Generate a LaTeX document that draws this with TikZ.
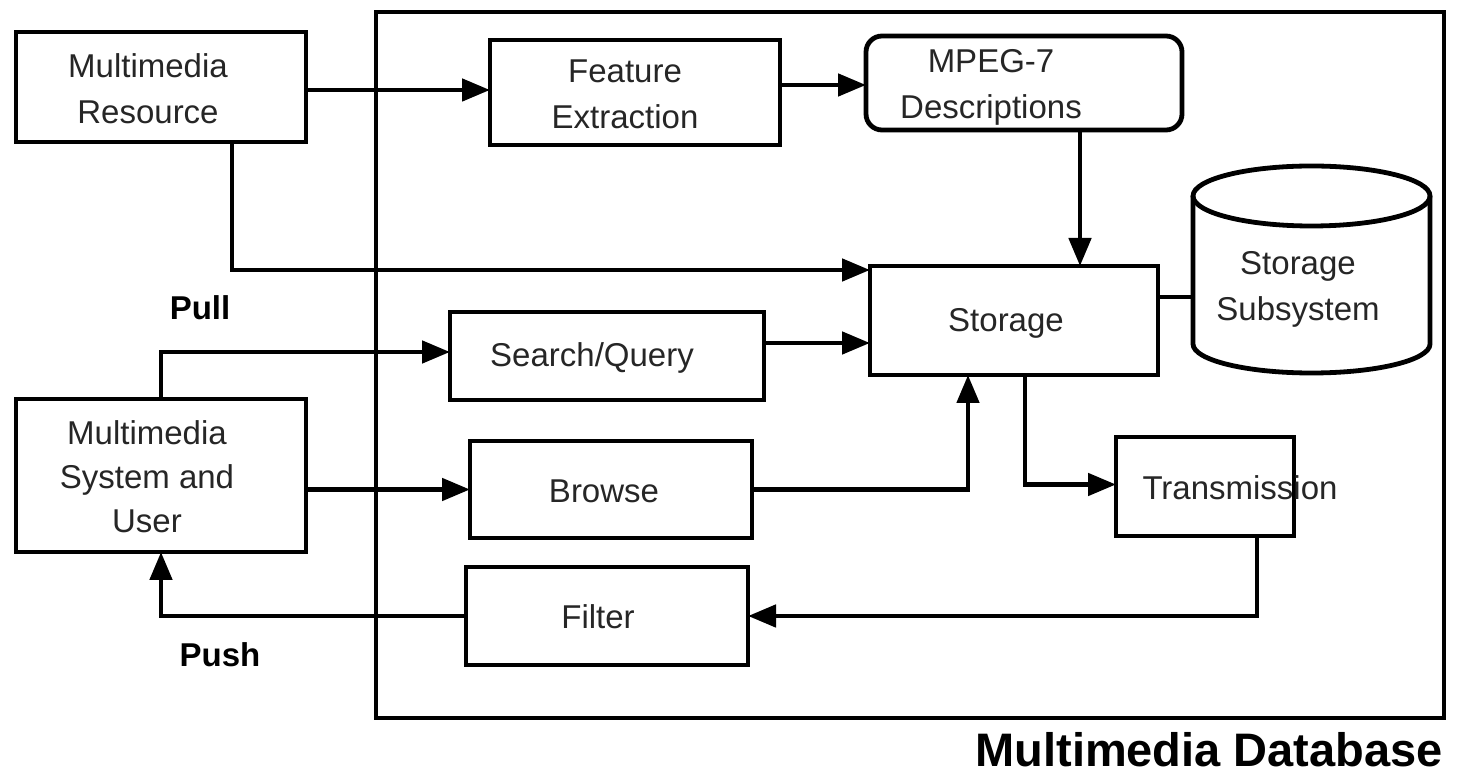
\documentclass[tikz,border=0pt]{standalone}
\usepackage{fontspec}
\setmainfont{Liberation Sans}
\usetikzlibrary{arrows.meta}
\begin{document}
\begin{tikzpicture}[x=0.5pt,y=-0.5pt,
  line width=2.4pt,
  box/.style={draw, rectangle, inner sep=0pt, outer sep=0pt},
  lbl/.style={align=center, text=black!85, font=\fontsize{16.5pt}{23pt}\selectfont},
  bold/.style={font=\fontsize{16.5pt}{20pt}\selectfont\bfseries},
  arr/.style={-{Triangle[length=14pt,width=11pt]}}]
\useasboundingbox (0,0) rectangle (1461,779);
\fill[white] (0,0) rectangle (1461,779);

% database frame
\node[box, minimum width=534pt, minimum height=353pt] (db) at (910,365) {};
\node[anchor=east, font=\fontsize{23.5pt}{26pt}\selectfont\bfseries] (dbt) at (1452,750) {Multimedia Database};

% blocks
\node[box, minimum width=145pt, minimum height=55pt] (mr) at (161,87) {};
\node[lbl] (mrt) at (148,89) {Multimedia\\Resource};

\node[box, minimum width=145pt, minimum height=52.5pt] (fe) at (635,92.5) {};
\node[lbl] (fet) at (625,94) {Feature\\Extraction};

\node[box, rounded corners=8pt, minimum width=158pt, minimum height=47pt] (mp) at (1024,83) {};
\node[lbl] (mpt) at (991,87) {MPEG-7\\Descriptions};

\node[box, minimum width=144pt, minimum height=54.5pt] (st) at (1014,320.5) {};
\node[lbl] (stt) at (1006,323) {Storage};

\node[box, minimum width=157pt, minimum height=44pt] (sq) at (607,356) {};
\node[lbl] (sqt) at (592,358) {Search/Query};

\node[box, minimum width=141pt, minimum height=48.5pt] (br) at (611,489.5) {};
\node[lbl] (brt) at (604,491) {Browse};

\node[box, minimum width=89pt, minimum height=49.5pt] (tr) at (1205,486.5) {};
\node[lbl] (trt) at (1240,488) {Transmission};

\node[box, minimum width=141pt, minimum height=49pt] (fi) at (607,616) {};
\node[lbl] (fit) at (598,617) {Filter};

\node[box, minimum width=145pt, minimum height=76.5pt] (ms) at (161,475.5) {};
\node[lbl, font=\fontsize{16.5pt}{22pt}\selectfont] (mst) at (147,477) {Multimedia\\System and\\User};

% storage subsystem cylinder
\draw (1311.5,196) ellipse [x radius=59.25pt, y radius=15pt];
\draw (1193,196) -- (1193,344) arc[start angle=180, end angle=360, x radius=59.25pt, y radius=14.5pt] -- (1430,196);
\coordinate (cyl) at (1193,297);
\node[lbl] (sst) at (1298,289) {Storage\\Subsystem};

% pull / push labels
\node[bold] (pull) at (200,308) {Pull};
\node[bold] (push) at (220,655) {Push};

% connectors
\draw[arr] ([yshift=-1.5pt]mr.east) -- ([yshift=-1.5pt]mr.east -| fe.west);
\draw[arr] ([yshift=-1pt]mp.west -| fe.east) -- ([yshift=-1pt]mp.west);
\draw[arr] ([xshift=28pt]mp.south) -- ([xshift=28pt]mp.south |- st.north);
\draw[arr] ([xshift=35.5pt]mr.south) |- ([yshift=25.25pt]st.west);
\draw[arr] (ms.north) |- ([yshift=2pt]sq.west);
\draw[arr] ([yshift=6.5pt]sq.east) -- ([yshift=6.5pt]sq.east -| st.west);
\draw[arr] (ms.east |- br.west) -- (br.west);
\draw[arr] (br.east) -| ([xshift=-23pt]st.south);
\draw[arr] ([xshift=5.5pt]st.south) |- ([yshift=1pt]tr.west);
\draw[arr] ([xshift=26pt]tr.south) |- (fi.east);
\draw[arr] (fi.west) -| (ms.south);
\draw ([yshift=11.75pt]st.east) -- (cyl);
\end{tikzpicture}
\end{document}
